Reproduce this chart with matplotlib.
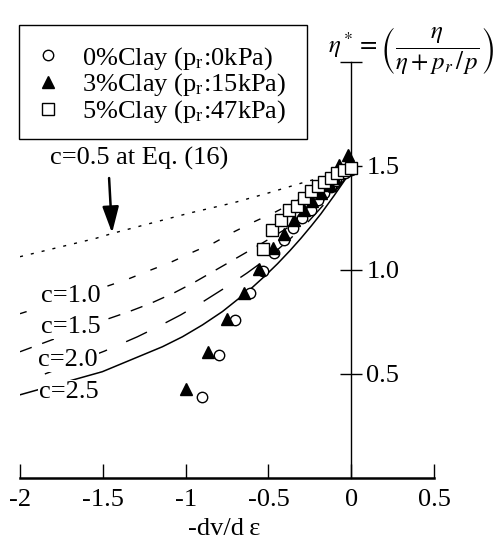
import matplotlib
matplotlib.use('Agg')
import matplotlib.pyplot as plt
from matplotlib.patches import Rectangle

# ---------------- data ----------------
clay0_x = [-0.902, -0.798, -0.700, -0.612, -0.535, -0.465, -0.405, -0.354, -0.298,
           -0.244, -0.200, -0.163, -0.123, -0.090, -0.040, 0.0]
clay0_y = [0.388, 0.590, 0.758, 0.891, 0.996, 1.080, 1.144, 1.200, 1.248,
           1.290, 1.335, 1.370, 1.400, 1.430, 1.465, 1.480]

clay3_x = [-0.995, -0.864, -0.751, -0.648, -0.556, -0.475, -0.405, -0.344, -0.284,
           -0.234, -0.180, -0.130, -0.100, -0.072, -0.018]
clay3_y = [0.426, 0.607, 0.763, 0.890, 1.004, 1.104, 1.172, 1.240, 1.290,
           1.330, 1.370, 1.410, 1.440, 1.505, 1.553]

clay5_x = [-0.535, -0.480, -0.425, -0.375, -0.330, -0.284, -0.244, -0.203, -0.163,
           -0.123, -0.083, -0.042, 0.0]
clay5_y = [1.100, 1.190, 1.240, 1.287, 1.310, 1.345, 1.380, 1.404, 1.425,
           1.440, 1.465, 1.480, 1.490]

c05_x = [-2.0, -1.543, -1.442, -0.98, -0.707, -0.506, -0.304, -0.163, 0.0]
c05_y = [1.064, 1.152, 1.176, 1.273, 1.324, 1.369, 1.417, 1.449, 1.475]

c10_x = [-2.0, -1.482, -1.352, -1.22, -1.09, -0.959, -0.828, -0.707, -0.586,
         -0.455, -0.30, -0.15, 0.0]
c10_y = [0.790, 0.920, 0.955, 0.997, 1.037, 1.085, 1.131, 1.184, 1.232,
         1.280, 1.345, 1.405, 1.475]

c15_x = [-2.0, -1.472, -1.341, -1.21, -1.07, -0.949, -0.818, -0.687, -0.546,
         -0.40, -0.27, -0.13, 0.0]
c15_y = [0.607, 0.764, 0.800, 0.840, 0.890, 0.940, 1.000, 1.060, 1.125,
         1.195, 1.265, 1.360, 1.475]

c20_x = [-1.85, -1.49, -1.291, -1.16, -1.03, -0.90, -0.761, -0.63, -0.50,
         -0.375, -0.25, -0.125, 0.0]
c20_y = [0.500, 0.610, 0.679, 0.730, 0.784, 0.845, 0.915, 0.985, 1.060,
         1.145, 1.240, 1.350, 1.475]

c25_x = [-2.0, -1.503, -1.382, -1.261, -1.14, -1.019, -0.898, -0.778, -0.677,
         -0.596, -0.52, -0.445, -0.37, -0.304, -0.24, -0.183, -0.103, -0.032, 0.0]
c25_y = [0.400, 0.511, 0.551, 0.591, 0.631, 0.679, 0.736, 0.800, 0.864,
         0.917, 0.972, 1.030, 1.093, 1.152, 1.213, 1.270, 1.358, 1.440, 1.480]

legend_labels = [r'0%Clay (p$_\mathregular{r}$:0kPa)',
                 r'3%Clay (p$_\mathregular{r}$:15kPa)',
                 r'5%Clay (p$_\mathregular{r}$:47kPa)']
curve_labels = ['c=1.0', 'c=1.5', 'c=2.0', 'c=2.5']
xticks = [-2, -1.5, -1, -0.5, 0, 0.5]
xtick_labels = ['-2', '-1.5', '-1', '-0.5', '0', '0.5']
yticks = [0.5, 1.0, 1.5, 2.0]
ytick_labels = ['0.5', '1.0', '1.5', '']

# ---------------- style ----------------
plt.rcParams['font.family'] = ['Liberation Serif', 'DejaVu Serif']
plt.rcParams['mathtext.fontset'] = 'stix'
plt.rcParams['axes.unicode_minus'] = False
FS = 19

fig = plt.figure(figsize=(4.97, 5.43), dpi=100)
ax = fig.add_axes([20/497, 65/543, 414/497, 416/543])
ax.set_xlim(-2, 0.5)
ax.set_ylim(0, 2.0)

for s in ['top', 'left']:
    ax.spines[s].set_visible(False)
ax.spines['right'].set_position(('data', 0))
ax.spines['right'].set_linewidth(1.0)
ax.spines['bottom'].set_linewidth(1.8)

ax.yaxis.tick_right()
ax.set_yticks(yticks)
ax.set_yticklabels(ytick_labels)
ax.set_xticks(xticks)
ax.set_xticklabels(xtick_labels)
ax.tick_params(axis='y', direction='inout', length=16, width=1.0, pad=3, labelsize=FS)
ax.tick_params(axis='x', direction='in', length=10, width=1.0, pad=8, labelsize=FS)

# theoretical curves
ax.plot(c05_x, c05_y, color='black', lw=1.0, linestyle=(0, (2.2, 5.8)), zorder=2)
ax.plot(c10_x, c10_y, color='black', lw=1.0, linestyle=(0, (5, 11.5)), zorder=2)
ax.plot(c15_x, c15_y, color='black', lw=1.0, linestyle=(0, (9, 8)), zorder=2)
ax.plot(c20_x, c20_y, color='black', lw=1.0, linestyle=(0, (16.5, 15)), zorder=2)
ax.plot(c25_x, c25_y, color='black', lw=1.1, linestyle='-', zorder=2)

# curve labels (mask the curves behind them)
for lab, (lx, ly) in zip(curve_labels, [(-1.875, 0.875), (-1.876, 0.726),
                                         (-1.89, 0.567), (-1.885, 0.413)]):
    ax.text(lx, ly, lab, fontsize=FS, ha='left', va='center', zorder=3,
            bbox=dict(facecolor='white', edgecolor='none', pad=0.5))

# data points
h0, = ax.plot(clay0_x, clay0_y, 'o', ms=7.5, mfc='white', mec='black', mew=1.0,
              linestyle='none', zorder=4)
h3, = ax.plot(clay3_x, clay3_y, '^', ms=8.5, mfc='black', mec='black',
              linestyle='none', zorder=5)
h5, = ax.plot(clay5_x, clay5_y, 's', ms=9, mfc='white', mec='black', mew=1.0,
              linestyle='none', zorder=6)

# arrow + annotation
ax.annotate('', xy=(-1.444, 1.178), xytext=(-1.462, 1.442),
            arrowprops=dict(arrowstyle='-|>,head_length=0.8,head_width=0.25',
                            color='black', lw=1.8, mutation_scale=20,
                            shrinkA=0, shrinkB=0), zorder=3)
ax.text(-1.28, 1.535, 'c=0.5 at Eq. (16)', fontsize=FS, ha='center', va='center')

# legend (frame drawn separately)
leg = fig.legend([h0, h3, h5], legend_labels, loc='center left',
                 bbox_to_anchor=(35/497, 1 - 85/543), frameon=False,
                 fontsize=FS, borderpad=0, borderaxespad=0, handlelength=1.0,
                 handletextpad=0.77, labelspacing=0.0)
fig.add_artist(Rectangle((19/497, 1 - 139/543), (307 - 19)/497, (139 - 25)/543,
                         transform=fig.transFigure, fill=False,
                         edgecolor='black', lw=1.0))

# y-axis formula
fig.text(411/497, 1 - 51/543,
         r'$\eta^* = \left(\dfrac{\eta}{\eta + p_r\,/\,p}\right)$',
         fontsize=18, ha='center', va='center')

# x label
fig.text(224/497, 1 - 529/543, '-dv/d\u2009\u03b5', fontsize=FS,
         ha='center', va='center')

fig.savefig('out.png', dpi=100)
